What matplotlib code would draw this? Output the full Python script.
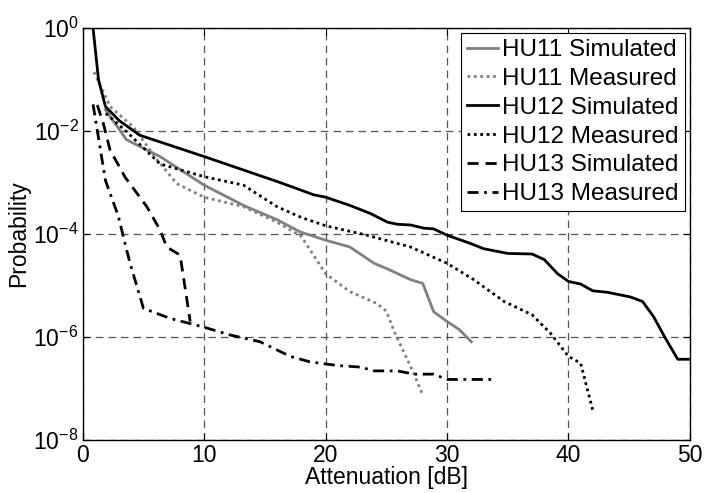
import math
import matplotlib
matplotlib.use('Agg')
import matplotlib.pyplot as plt
from matplotlib.ticker import FixedLocator, FuncFormatter, NullLocator

plt.rcParams['font.family'] = ['Liberation Sans', 'DejaVu Sans']
plt.rcParams['mathtext.default'] = 'regular'
plt.rcParams['font.size'] = 16.5

# attenuation [dB] / probability per curve
hu11_sim_x = [1.87, 3.6, 6.37, 10, 13.24, 16, 17.9, 20, 22, 24, 25.1, 27, 28, 28.9, 30, 31, 32]
hu11_sim_p = [2.6e-2, 6.8e-3, 3.2e-3, 8.9e-4, 3.6e-4, 1.9e-4, 1.1e-4, 7.6e-5, 5.6e-5,
              2.7e-5, 2.1e-5, 1.3e-5, 1.1e-5, 3.1e-6, 2.0e-6, 1.4e-6, 8.1e-7]

hu11_meas_x = [0.93, 2.25, 4.17, 6.1, 7.75, 10, 13.24, 16, 18, 20, 22, 24.2, 25.0, 25.7, 27.25, 28]
hu11_meas_p = [1.4e-1, 3.0e-2, 1.2e-2, 2.8e-3, 9.5e-4, 5.2e-4, 3.4e-4, 1.7e-4, 9e-5,
               1.7e-5, 7.6e-6, 4.5e-6, 3.2e-6, 1.2e-6, 2.0e-7, 7.4e-8]

hu12_sim_x = [0.85, 1.3, 1.87, 3, 4.7, 10, 16, 18, 19, 20, 22, 23.7, 25.1, 25.9, 27, 28.1,
              28.9, 30, 31.9, 33, 35, 37, 38, 39.1, 40, 41, 42, 43.2, 45.1, 46.1, 47, 48, 49, 50]
hu12_sim_p = [1.0, 1.0e-1, 3.0e-2, 1.6e-2, 8.3e-3, 3.2e-3, 1.05e-3, 7.1e-4, 5.8e-4, 5.2e-4,
              3.6e-4, 2.5e-4, 1.7e-4, 1.55e-4, 1.5e-4, 1.3e-4, 1.26e-4, 9.5e-5, 6.6e-5,
              5.2e-5, 4.2e-5, 4.1e-5, 3.2e-5, 1.7e-5, 1.2e-5, 1.07e-5, 7.9e-6, 7.4e-6,
              6.0e-6, 4.9e-6, 2.5e-6, 9.3e-7, 3.7e-7, 3.7e-7]

hu12_meas_x = [1.9, 3.6, 6.37, 10, 13.24, 16, 18, 20, 23.4, 27, 30, 32.2, 34.7, 37, 38.5, 40, 41, 42]
hu12_meas_p = [2.2e-2, 9.8e-3, 2.3e-3, 1.3e-3, 8.9e-4, 3.4e-4, 2.1e-4, 1.45e-4, 9.5e-5,
               5.6e-5, 2.7e-5, 1.3e-5, 4.9e-6, 2.7e-6, 1.2e-6, 4.2e-7, 3.1e-7, 3.8e-8]

hu13_sim_x = [1.2, 1.7, 2.25, 3.5, 5.28, 6.37, 6.92, 8.02, 8.85]
hu13_sim_p = [3.2e-2, 1.4e-2, 4.3e-3, 1.26e-3, 3.4e-4, 1.2e-4, 5.6e-5, 3.9e-5, 2.0e-6]

hu13_meas_x = [0.85, 1.87, 2.94, 3.5, 3.9, 5.0, 7.2, 10, 12.1, 14.6, 17.1, 18.7, 20, 21,
               22.9, 24, 25.9, 27.3, 28.9, 30, 34]
hu13_meas_p = [3.3e-2, 1.1e-3, 2.2e-4, 6.3e-5, 2.7e-5, 3.6e-6, 2.3e-6, 1.55e-6, 1.1e-6,
               8.1e-7, 4.2e-7, 3.3e-7, 3.0e-7, 2.8e-7, 2.6e-7, 2.2e-7, 2.2e-7, 1.9e-7,
               1.9e-7, 1.5e-7, 1.5e-7]

gray = '#808080'
dot = (0, (1, 1.3))

fig = plt.figure(figsize=(7.04, 4.93), dpi=100)
ax = fig.add_axes([0.1175, 0.1075, 0.8625, 0.8355])

ax.semilogy(hu11_sim_x, hu11_sim_p, color=gray, lw=2, label='HU11 Simulated')
ax.semilogy(hu11_meas_x, hu11_meas_p, color=gray, lw=2, ls=dot, label='HU11 Measured')
ax.semilogy(hu12_sim_x, hu12_sim_p, color='black', lw=2, label='HU12 Simulated')
ax.semilogy(hu12_meas_x, hu12_meas_p, color='black', lw=2, ls=dot, label='HU12 Measured')
ax.semilogy(hu13_sim_x, hu13_sim_p, color='black', lw=2, ls=(0, (4, 2.5)), label='HU13 Simulated')
ax.semilogy(hu13_meas_x, hu13_meas_p, color='black', lw=2, ls=(0, (4, 2, 1, 2)),
            label='HU13 Measured')

ax.set_xlim(0, 50)
ax.set_ylim(1e-8, 1)
ax.xaxis.set_major_locator(FixedLocator([0, 10, 20, 30, 40, 50]))
ax.yaxis.set_major_locator(FixedLocator([1e-8, 1e-6, 1e-4, 1e-2, 1]))
ax.yaxis.set_minor_locator(NullLocator())
ax.yaxis.set_major_formatter(FuncFormatter(
    lambda v, pos: '$10^{%d}$' % round(math.log10(v))))

ax.tick_params(direction='in', top=True, right=True, length=5, width=0.8,
               labelsize=16.5, pad=3)
ax.grid(True, which='major', ls=(0, (6, 4)), color='#555555', lw=0.9)
for s in ax.spines.values():
    s.set_linewidth(1)

ax.set_xlabel('Attenuation [dB]', fontsize=16.5, labelpad=-1)
ax.set_ylabel('Probability', fontsize=16.5, labelpad=2)

leg = ax.legend(loc='upper right', fontsize=17.5, handlelength=1.25, handletextpad=0.2,
                labelspacing=0.28, borderpad=0.25, borderaxespad=0.2,
                fancybox=False, framealpha=1, edgecolor='black')
leg.get_frame().set_linewidth(0.8)

fig.savefig('out.png', dpi=100)
plt.close(fig)
